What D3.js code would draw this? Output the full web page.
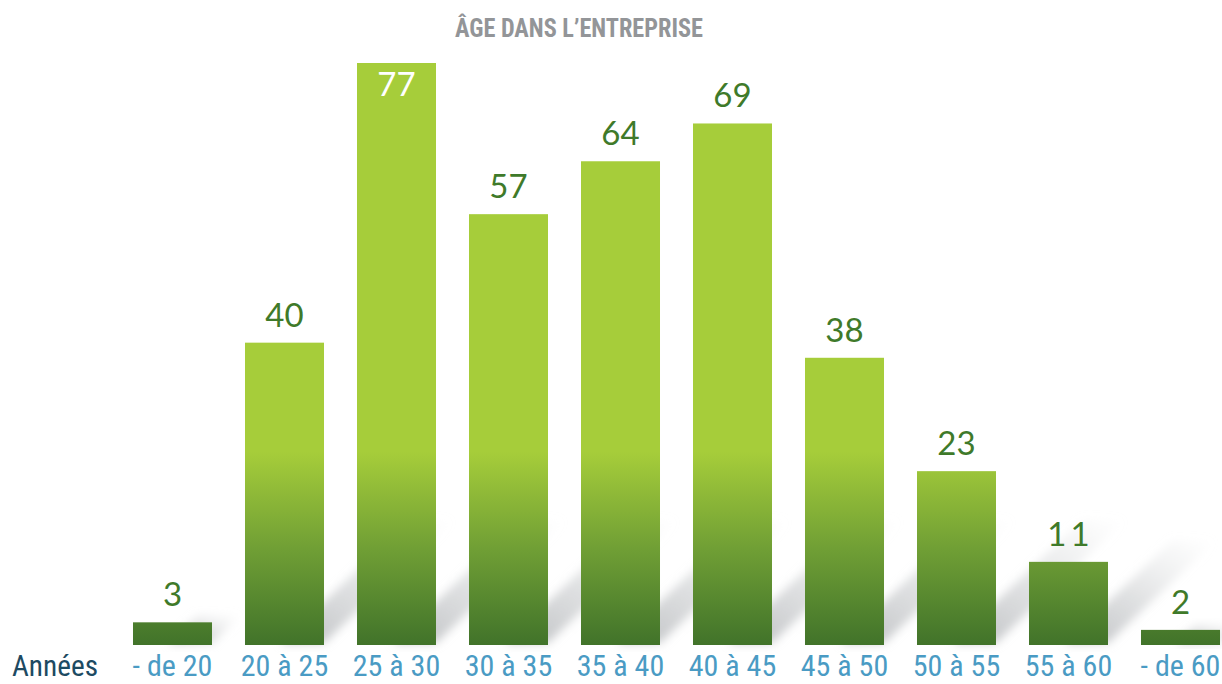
<!DOCTYPE html>
<html>
<head>
<meta charset="utf-8">
<script src="https://cdn.jsdelivr.net/npm/d3@7"></script>
<style>
  html, body { margin: 0; padding: 0; background: #ffffff; }
  svg { display: block; }
</style>
</head>
<body>
<div id="chart"></div>
<script>
const title = "ÂGE DANS L’ENTREPRISE";
const axisName = "Années";
const categories = ["- de 20", "20 à 25", "25 à 30", "30 à 35", "35 à 40", "40 à 45", "45 à 50", "50 à 55", "55 à 60", "- de 60"];
const values = [3, 40, 77, 57, 64, 69, 38, 23, 11, 2];

const W = 1222, H = 684;
const svg = d3.select("#chart").append("svg").attr("width", W).attr("height", H);
const defs = svg.append("defs");
const condensed = "'Roboto Condensed', 'Liberation Sans Narrow', 'Arial Narrow', sans-serif";

const baseY = 645;
const x = d3.scaleBand().domain(categories).range([116.5, 1236.5]).paddingInner(0.2946).paddingOuter(0.1473);
const y = d3.scaleLinear().domain([0, 77]).range([baseY, 63]);

// bar gradient fixed in page space
const g = defs.append("linearGradient").attr("id", "barGrad")
  .attr("gradientUnits", "userSpaceOnUse").attr("x1", 0).attr("x2", 0).attr("y1", 452).attr("y2", baseY);
g.append("stop").attr("offset", 0).attr("stop-color", "#a6cd3a");
g.append("stop").attr("offset", 0.5).attr("stop-color", "#709f35");
g.append("stop").attr("offset", 1).attr("stop-color", "#41732a");

// shadow gradient + blur
const sg = defs.append("linearGradient").attr("id", "shGrad")
  .attr("x1", 0).attr("y1", 1).attr("x2", 1).attr("y2", 0);
sg.append("stop").attr("offset", 0).attr("stop-color", "#b9bbbe").attr("stop-opacity", 0.95);
sg.append("stop").attr("offset", 0.45).attr("stop-color", "#cfd1d3").attr("stop-opacity", 0.65);
sg.append("stop").attr("offset", 1).attr("stop-color", "#e6e7e8").attr("stop-opacity", 0);
const f = defs.append("filter").attr("id", "blur").attr("x", "-30%").attr("y", "-30%").attr("width", "160%").attr("height", "160%");
f.append("feGaussianBlur").attr("stdDeviation", 5);

// shadows
const bw = x.bandwidth();
svg.append("g").selectAll("path").data(categories).join("path")
  .attr("d", (c, i) => {
    const h = baseY - y(values[i]);
    const L = Math.min(h * 1.3, 130);
    const x0 = x(c) + bw * 0.45, x1 = x(c) + bw;
    return `M${x0},${baseY - 2} L${x1},${baseY - 2} L${x1 + L},${baseY - 2 - L * 0.95} L${x0 + L},${baseY - 2 - L * 0.95} Z`;
  })
  .attr("fill", "url(#shGrad)")
  .attr("filter", "url(#blur)");

// bars
svg.append("g").selectAll("rect").data(categories).join("rect")
  .attr("x", c => x(c))
  .attr("y", (c, i) => y(values[i]))
  .attr("width", bw)
  .attr("height", (c, i) => baseY - y(values[i]))
  .attr("fill", "url(#barGrad)");

// value labels
svg.append("g").selectAll("text").data(categories).join("text")
  .attr("x", c => x(c) + bw / 2)
  .attr("dx", (c, i) => values[i] === 11 ? 2 : 0)
  .attr("y", (c, i) => values[i] === d3.max(values) ? y(values[i]) + 33 : y(values[i]) - 16)
  .attr("text-anchor", "middle")
  .attr("font-family", "Lato, 'Noto Sans', sans-serif")
  .attr("font-size", 33)
  .style("font-variant-numeric", "tabular-nums")
  .style("letter-spacing", (c, i) => values[i] === 11 ? "4px" : "0px")
  .attr("fill", (c, i) => values[i] === d3.max(values) ? "#ffffff" : "#3f7a2a")
  .text((c, i) => values[i]);

// x axis labels
const xAxis = d3.axisBottom(x).tickSize(0).tickPadding(0);
const ax = svg.append("g").attr("transform", `translate(0,${baseY})`).call(xAxis);
ax.select(".domain").remove();
ax.selectAll("text")
  .attr("y", 31).attr("dy", 0)
  .attr("font-family", condensed)
  .attr("font-size", 30)
  .attr("fill", "#4a9bc4");

svg.append("text")
  .attr("x", 12).attr("y", baseY + 31)
  .attr("font-family", condensed)
  .attr("font-size", 30)
  .attr("textLength", 86)
  .attr("lengthAdjust", "spacingAndGlyphs")
  .attr("fill", "#1d4a62")
  .text(axisName);

svg.append("text")
  .attr("x", 455).attr("y", 37)
  .attr("font-family", condensed)
  .attr("font-weight", "bold")
  .attr("font-size", 25)
  .attr("textLength", 248)
  .attr("lengthAdjust", "spacingAndGlyphs")
  .attr("fill", "#939598")
  .text(title);
</script>
</body>
</html>
